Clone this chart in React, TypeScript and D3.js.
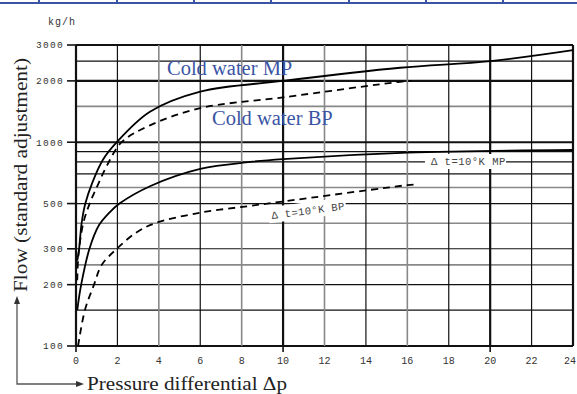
import { useEffect, useRef } from 'react';
import * as d3 from 'd3';

const W = 577;
const H = 394;

// y grid (kg/h) and x grid (pressure)
const Y_GRID = [100, 150, 200, 250, 300, 400, 500, 600, 700, 800, 900, 1000, 1500, 2000, 2500, 3000];
const Y_GRID_GRAY = [250, 400, 600, 1500];
const Y_GRID_BOLD = [100, 1000, 2000, 3000];
const Y_TICKS = [100, 200, 300, 500, 1000, 2000, 3000];
const X_TICKS = [0, 2, 4, 6, 8, 10, 12, 14, 16, 18, 20, 22, 24];
const X_GRID_GRAY = [4, 8, 12, 16];
const X_GRID_BOLD = [0, 10, 20, 24];
const X_TICK_MARKS = [0, 10, 20];

// curves
const coldMpDp = [0.06, 0.15, 0.27, 0.45, 0.78, 1.3, 1.97, 3.57, 6, 10, 15.65, 20, 24];
const coldMpQ = [262, 300, 400, 500, 630, 820, 1000, 1410, 1770, 2000, 2320, 2500, 2830];

const coldBpDp = [0.06, 0.12, 0.35, 0.66, 1.05, 1.5, 2.2, 3.57, 6, 10, 15.65, 16.2];
const coldBpQ = [210, 280, 400, 500, 616, 770, 1000, 1210, 1470, 1660, 1980, 2000];

const dtMpDp = [0.06, 0.25, 0.65, 1.1, 1.6, 2.1, 3.6, 6, 8.4, 10, 16, 24];
const dtMpQ = [150, 200, 300, 390, 450, 500, 610, 740, 800, 827, 890, 916];

const dtBpDp = [0.1, 0.43, 0.87, 1.24, 1.97, 2.9, 3.8, 6, 8.4, 10, 16, 16.3];
const dtBpQ = [100, 150, 200, 250, 300, 360, 400, 451, 487, 512, 616, 620];

const TOP_BAR_X = [39, 117, 194, 271, 349, 426, 503];

const MONO = '"Liberation Mono", "DejaVu Sans Mono", monospace';
const SERIF = '"Liberation Serif", "DejaVu Serif", serif';
const BLUE = '#3a54a4';

export default function App() {
  const svgRef = useRef<SVGSVGElement>(null);

  useEffect(() => {
    if (!svgRef.current) return;
    const svg = d3.select(svgRef.current);
    svg.selectAll('*').remove();

    const x = d3.scaleLinear().domain([0, 24]).range([76, 573]);
    const y = d3.scaleLog().domain([100, 3000]).range([346, 45]);

    svg.append('rect').attr('width', W).attr('height', H).attr('fill', '#fff');

    // blue table border at the very top
    svg.append('line').attr('x1', 0).attr('x2', W).attr('y1', 3).attr('y2', 3)
      .attr('stroke', BLUE).attr('stroke-width', 2.2);
    svg.selectAll('line.sep').data(TOP_BAR_X).join('line')
      .attr('x1', (d) => d).attr('x2', (d) => d).attr('y1', 0).attr('y2', 4)
      .attr('stroke', BLUE).attr('stroke-width', 2);

    const grid = svg.append('g');
    grid.selectAll('line.h').data(Y_GRID).join('line')
      .attr('x1', x(0)).attr('x2', x(24))
      .attr('y1', (d) => y(d)).attr('y2', (d) => y(d))
      .attr('stroke', (d) => (Y_GRID_GRAY.includes(d) ? '#888' : '#111'))
      .attr('stroke-width', (d) => (Y_GRID_BOLD.includes(d) ? 2.2 : Y_GRID_GRAY.includes(d) ? 1.6 : 1.2));
    grid.selectAll('line.v').data(X_TICKS).join('line')
      .attr('y1', y(100)).attr('y2', y(3000))
      .attr('x1', (d) => x(d)).attr('x2', (d) => x(d))
      .attr('stroke', (d) => (X_GRID_GRAY.includes(d) ? '#888' : '#111'))
      .attr('stroke-width', (d) => (X_GRID_BOLD.includes(d) ? 2.2 : X_GRID_GRAY.includes(d) ? 1.6 : 1.2));

    // ticks
    grid.selectAll('line.yt').data(Y_TICKS).join('line')
      .attr('x1', 67).attr('x2', x(0)).attr('y1', (d) => y(d)).attr('y2', (d) => y(d))
      .attr('stroke', '#111').attr('stroke-width', 1.6);
    grid.selectAll('line.xt').data(X_TICK_MARKS).join('line')
      .attr('x1', (d) => x(d)).attr('x2', (d) => x(d)).attr('y1', y(100)).attr('y2', y(100) + 6)
      .attr('stroke', '#111').attr('stroke-width', 1.6);

    svg.selectAll('text.yl').data(Y_TICKS).join('text')
      .attr('x', 64).attr('y', (d) => y(d)).attr('dy', '0.35em')
      .attr('text-anchor', 'end').attr('fill', '#333')
      .style('font-family', MONO).style('font-size', '9.5px').style('letter-spacing', '1.3px')
      .text((d) => d);
    svg.selectAll('text.xl').data(X_TICKS).join('text')
      .attr('x', (d) => (d === 24 ? W - 1 : x(d)))
      .attr('y', 364)
      .attr('text-anchor', (d) => (d === 24 ? 'end' : 'middle')).attr('fill', '#333')
      .style('font-family', MONO).style('font-size', '10px')
      .text((d) => d);

    svg.append('text').attr('x', 48).attr('y', 25).attr('fill', '#333')
      .style('font-family', MONO).style('font-size', '10px').style('letter-spacing', '1px')
      .text('kg/h');

    // label boxes (hide grid lines)
    svg.append('rect').attr('x', 425).attr('y', 154).attr('width', 81).attr('height', 15).attr('fill', '#fff');
    svg.append('text').attr('x', 431).attr('y', 164.5).attr('fill', '#444')
      .style('font-family', MONO).style('font-size', '10.5px').style('letter-spacing', '0.5px')
      .text('Δ t=10°K MP');

    const bp = svg.append('g').attr('transform', 'translate(272,219) rotate(-7.5)');
    bp.append('rect').attr('x', -3).attr('y', -12).attr('width', 78).attr('height', 16).attr('fill', '#fff');
    bp.append('text').attr('x', 0).attr('y', 0).attr('fill', '#444')
      .style('font-family', MONO).style('font-size', '10.5px').style('letter-spacing', '0.4px')
      .text('Δ t=10°K BP');

    // curves
    const line = d3.line<[number, number]>()
      .x((d) => x(d[0]))
      .y((d) => y(d[1]))
      .curve(d3.curveCatmullRom.alpha(0.5));
    const series = [
      { dp: coldMpDp, q: coldMpQ, dash: null },
      { dp: coldBpDp, q: coldBpQ, dash: '7,5' },
      { dp: dtMpDp, q: dtMpQ, dash: null },
      { dp: dtBpDp, q: dtBpQ, dash: '7,5' },
    ];
    series.forEach((s) => {
      const pts = s.dp.map((d, i) => [d, s.q[i]] as [number, number]);
      svg.append('path').attr('d', line(pts))
        .attr('fill', 'none').attr('stroke', '#000').attr('stroke-width', 1.8)
        .attr('stroke-dasharray', s.dash);
    });

    // series names
    svg.append('text').attr('x', 167).attr('y', 75).attr('fill', BLUE)
      .style('font-family', SERIF).style('font-size', '20.5px').text('Cold water MP');
    svg.append('text').attr('x', 212).attr('y', 125).attr('fill', BLUE)
      .style('font-family', SERIF).style('font-size', '20.5px').text('Cold water BP');

    // axis titles with arrows
    svg.append('text').attr('transform', 'translate(27,292) rotate(-90)')
      .attr('fill', '#222').attr('textLength', 234).attr('lengthAdjust', 'spacingAndGlyphs')
      .style('font-family', SERIF).style('font-size', '18.5px')
      .text('Flow (standard adjustment)');
    svg.append('text').attr('x', 87).attr('y', 390)
      .attr('fill', '#222').attr('textLength', 200).attr('lengthAdjust', 'spacingAndGlyphs')
      .style('font-family', SERIF).style('font-size', '18.5px')
      .text('Pressure differential Δp');

    svg.append('path').attr('d', 'M17,303 L17,384 L78,384')
      .attr('fill', 'none').attr('stroke', '#555').attr('stroke-width', 1.3);
    svg.append('path').attr('d', 'M17,296 L14,304 L20,304 Z').attr('fill', '#333');
    svg.append('path').attr('d', 'M84,384 L76,381 L76,387 Z').attr('fill', '#333');
  }, []);

  return (
    <svg
      ref={svgRef}
      width={W}
      height={H}
      style={{ position: 'absolute', left: 0, top: 0, display: 'block' }}
    />
  );
}
